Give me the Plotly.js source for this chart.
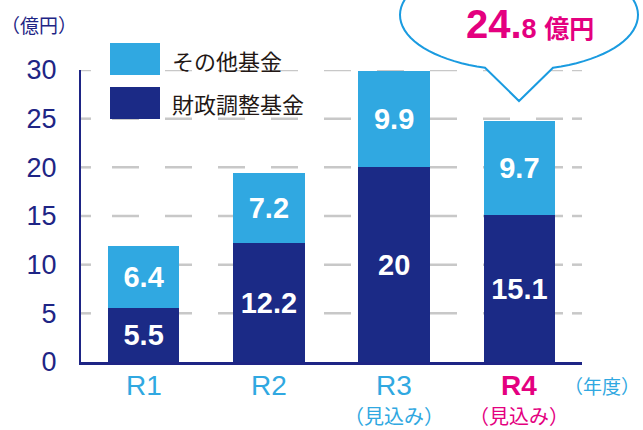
<!DOCTYPE html>
<html><head><meta charset="utf-8">
<script src="https://cdn.plot.ly/plotly-3.0.1.min.js"></script>
<style>html,body{margin:0;padding:0;background:#fff}#c{width:643px;height:430px}</style>
</head><body><div id="c"></div>
<script>
const categories = ['R1', 'R2', 'R3', 'R4'];
const subLabels = ['', '', '（見込み）', '（見込み）'];
const zaiseiChosei = [5.5, 12.2, 20, 15.1];   // 財政調整基金
const sonotaKikin = [6.4, 7.2, 9.9, 9.7];     // その他基金
const seriesNames = ['財政調整基金', 'その他基金'];
const yTicks = [0, 5, 10, 15, 20, 25, 30];
const totalLabel = '24.8';

const NAVY = '#1b2a86', LBLUE = '#30a8e1', MAG = '#e4007f', AXIS = '#1e2585', GRID = '#c8c8c8';
const FONT = 'Liberation Sans, Arial, Noto Sans CJK JP, sans-serif';
const JFONT = 'Noto Sans CJK JP, sans-serif';

// pixel -> paper helpers (plot area 81..582 x, 70..362 y)
const L = 81, R = 582, T = 70, B = 362;
const px = X => (X - L) / (R - L);
const py = Y => (B - Y) / (B - T);

const barText = {color: '#fff', size: 29, family: FONT};
const traces = [
  {type: 'bar', name: seriesNames[0], x: categories, y: zaiseiChosei,
   marker: {color: NAVY}, texttemplate: '<b>%{y}</b>', textposition: 'inside',
   insidetextanchor: 'middle', constraintext: 'none', textfont: barText, hoverinfo: 'none'},
  {type: 'bar', name: seriesNames[1], x: categories, y: sonotaKikin,
   marker: {color: LBLUE}, texttemplate: '<b>%{y}</b>', textposition: 'inside',
   insidetextanchor: 'middle', constraintext: 'none', textfont: barText, hoverinfo: 'none'}
];

// speech bubble path (ellipse + pointer)
const cx = 519, cy = 15, rx = 119, ry = 55;
const t0 = Math.acos(34 / rx), t1 = Math.PI - t0 - 2 * Math.PI;
let d = '';
const N = 80;
for (let i = 0; i <= N; i++) {
  const t = t0 + (t1 - t0) * i / N;
  const X = cx + rx * Math.cos(t), Y = cy + ry * Math.sin(t);
  d += (i === 0 ? 'M' : 'L') + px(X).toFixed(5) + ',' + py(Y).toFixed(5) + ' ';
}
d += 'L' + px(519).toFixed(5) + ',' + py(101).toFixed(5) + ' Z';

const shapes = [];
// dashed gridlines with short end caps
yTicks.filter(v => v > 0).forEach(v => {
  shapes.push({type: 'line', xref: 'paper', yref: 'y', x0: px(81), x1: px(91), y0: v, y1: v,
    line: {color: GRID, width: 2.5}, layer: 'below'});
  shapes.push({type: 'line', xref: 'paper', yref: 'y', x0: px(112), x1: px(563), y0: v, y1: v,
    line: {color: GRID, width: 2.5, dash: '27px,26px'}, layer: 'below'});
  shapes.push({type: 'line', xref: 'paper', yref: 'y', x0: px(572), x1: px(582), y0: v, y1: v,
    line: {color: GRID, width: 2.5}, layer: 'below'});
});
shapes.push(
  {type: 'path', xref: 'paper', yref: 'paper', path: d, fillcolor: '#fff',
   line: {color: '#1a9be0', width: 2}, layer: 'above'},
  {type: 'rect', xref: 'paper', yref: 'paper', x0: px(110), x1: px(160), y0: py(43), y1: py(75),
   fillcolor: LBLUE, line: {width: 0}, layer: 'above'},
  {type: 'rect', xref: 'paper', yref: 'paper', x0: px(110), x1: px(160), y0: py(87), y1: py(119),
   fillcolor: NAVY, line: {width: 0}, layer: 'above'}
);

const annotations = [];
categories.forEach((c, i) => {
  const col = i === categories.length - 1 ? MAG : LBLUE;
  annotations.push({x: c, xref: 'x', y: py(385), yref: 'paper', xanchor: 'center', yanchor: 'middle',
    text: i === categories.length - 1 ? '<b>' + c + '</b>' : c, showarrow: false,
    font: {family: FONT, size: 28, color: col}});
  if (subLabels[i]) annotations.push({x: c, xref: 'x', y: py(415), yref: 'paper', xanchor: 'center',
    yanchor: 'middle', text: subLabels[i], showarrow: false, font: {family: JFONT, size: 20, color: col}});
});
annotations.push(
  {x: 1.0 + (642 - R) / (R - L), y: py(385), xref: 'paper', yref: 'paper', xanchor: 'right', yanchor: 'middle',
   text: '（年度）', showarrow: false, font: {family: JFONT, size: 19, color: LBLUE}},
  {x: px(39), y: py(24), xref: 'paper', yref: 'paper', xanchor: 'center', yanchor: 'middle',
   text: '（億円）', showarrow: false, font: {family: JFONT, size: 19, color: AXIS}},
  {x: px(170), y: py(60), xref: 'paper', yref: 'paper', xanchor: 'left', yanchor: 'middle',
   text: seriesNames[1], showarrow: false, font: {family: JFONT, size: 22, color: '#231815'}},
  {x: px(170), y: py(103), xref: 'paper', yref: 'paper', xanchor: 'left', yanchor: 'middle',
   text: seriesNames[0], showarrow: false, font: {family: JFONT, size: 22, color: '#231815'}},
  {x: px(530), y: py(0), xref: 'paper', yref: 'paper', xanchor: 'center', yanchor: 'top', showarrow: false,
   text: '<b>' + totalLabel.split('.')[0] + '.</b><b><span style="font-size:27px">' + totalLabel.split('.')[1] +
     ' </span><span style="font-size:25px;font-family:Noto Sans CJK JP">億円</span></b>',
   font: {family: FONT, size: 40, color: MAG}}
);

const layout = {
  width: 643, height: 430,
  margin: {l: L, r: 643 - R, t: T, b: 430 - B, pad: 0},
  paper_bgcolor: '#fff', plot_bgcolor: 'rgba(0,0,0,0)',
  barmode: 'stack', bargap: 0.43, showlegend: false,
  font: {family: FONT},
  xaxis: {type: 'category', range: [-0.5, 3.5], showticklabels: false, ticks: '',
    showgrid: false, zeroline: false, showline: true, linecolor: AXIS, linewidth: 2.5, fixedrange: true},
  yaxis: {range: [0, 30], tickvals: yTicks, ticks: '', ticklabelstandoff: 17,
    tickfont: {family: FONT, size: 27, color: AXIS},
    showgrid: false, zeroline: false, showline: true, linecolor: AXIS, linewidth: 2, fixedrange: true},
  shapes: shapes, annotations: annotations
};

Plotly.newPlot('c', traces, layout, {displayModeBar: false, staticPlot: true});
</script></body></html>
